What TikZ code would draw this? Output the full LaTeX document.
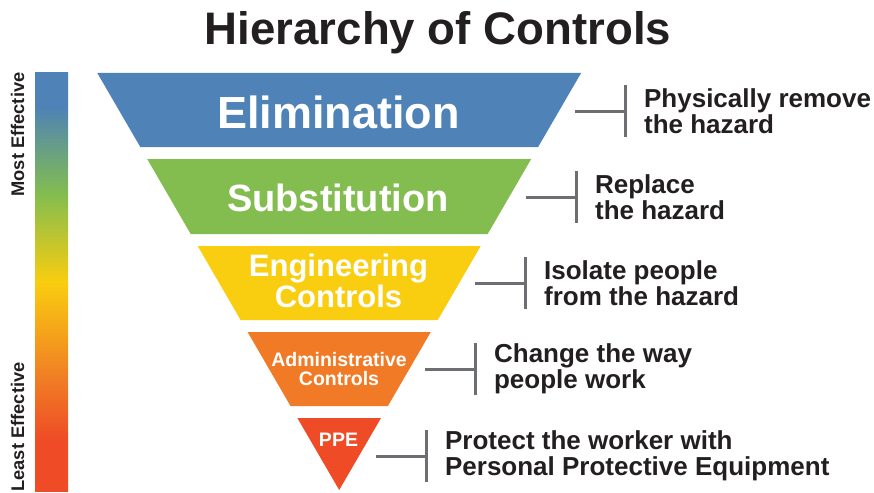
\documentclass[tikz,border=0pt]{standalone}
\usepackage{fontspec}
\setmainfont{Liberation Sans}
\usetikzlibrary{positioning}
\definecolor{hcblue}{HTML}{4F82B6}
\definecolor{hcgreen}{HTML}{83BD4F}
\definecolor{hcyellow}{HTML}{F9CD10}
\definecolor{hcorange}{HTML}{F07A25}
\definecolor{hcred}{HTML}{EE4B26}
\definecolor{hcgray}{HTML}{6D6E71}
\definecolor{hctext}{HTML}{231F20}
% Effectiveness scale, red at the bottom up to blue at the top
% (only 25bp--75bp is stretched over the path)
\pgfdeclareverticalshading{effective}{100bp}{%
  color(0bp)=(hcred); color(31bp)=(hcred); color(38bp)=(hcorange);
  color(50bp)=(hcyellow); color(60.5bp)=(hcgreen); color(71bp)=(hcblue);
  color(100bp)=(hcblue)}

\begin{document}
\begin{tikzpicture}[%
    x=1pt, y=-1pt,              % Work in picture pixels, y going down
    node distance=10pt          % Default spacing for relative placement
    ]
% -------------------------------------------------
% Text, bracket and scale styles
\tikzset{
  lvl/.style={text=white, font=\bfseries, align=center, inner sep=0pt},
  desc/.style={text=hctext, align=left, inner sep=0pt,
    font={\fontsize{26}{26.5}\selectfont\bfseries}},
  brbar/.style={fill=hcgray, minimum width=3pt, minimum height=52pt,
    inner sep=0pt},
  brline/.style={draw, hcgray, line width=3pt},
  side/.style={text=hctext, rotate=90, anchor=base, inner sep=0pt,
    font={\fontsize{18.3}{20}\selectfont\bfseries}}
}
\useasboundingbox (0,0) rectangle (874,492);

% -------------------------------------------------
% Title
\node [anchor=base, text=hctext, inner sep=0pt,
  font={\fontsize{45.6}{50}\selectfont\bfseries}] (title) at (438,45)
  {Hierarchy of Controls};

% -------------------------------------------------
% The scale on the left
\shade [shading=effective] (35,73) rectangle (68,491);
\node [side] (most) at (24,134.5) {Most Effective};
\node [side] (least) at (24,427) {Least Effective};

% -------------------------------------------------
% The inverted pyramid, one slice per level
\fill [hcblue]   (97.3,73) -- (581.1,73) -- (538.1,147) -- (140.3,147) -- cycle;
\fill [hcgreen]  (147.2,159) -- (531.2,159) -- (487.7,234) -- (190.7,234) -- cycle;
\fill [hcyellow] (197.7,246) -- (480.7,246) -- (437.8,320) -- (240.6,320) -- cycle;
\fill [hcorange] (247.6,332) -- (430.8,332) -- (387.9,406) -- (290.5,406) -- cycle;
\fill [hcred]    (297.4,418) -- (381.0,418) -- (339.2,490) -- cycle;

\node [lvl, anchor=base, font={\fontsize{45}{50}\selectfont\bfseries}]
  (elim) at (338.5,128.3) {Elimination};
\node [lvl, anchor=base, font={\fontsize{38}{42}\selectfont\bfseries}]
  (subst) at (338,211.7) {Substitution};
\node [lvl, font={\fontsize{31}{31.3}\selectfont\bfseries}]
  (eng) at (338.5,281) {Engineering\\Controls};
\node [lvl, font={\fontsize{19.5}{18.5}\selectfont\bfseries}]
  (admin) at (339,368.8) {Administrative\\Controls};
\node [lvl, anchor=base, font={\fontsize{19.5}{21}\selectfont\bfseries}]
  (ppe) at (338.5,446) {PPE};

% -------------------------------------------------
% Brackets: a stub from the slice, then the bar, then the text
\coordinate (e1) at (575,111);
\coordinate (e2) at (526,197);
\coordinate (e3) at (475,283);
\coordinate (e4) at (425,369);
\coordinate (e5) at (376,456);

\node [brbar, right=48.5pt of e1] (b1) {};
\node [brbar, right=48.5pt of e2] (b2) {};
\node [brbar, right=48.5pt of e3] (b3) {};
\node [brbar, right=48.5pt of e4] (b4) {};
\node [brbar, right=48.5pt of e5] (b5) {};

\draw [brline] (e1) -- (b1.west);
\draw [brline] (e2) -- (b2.west);
\draw [brline] (e3) -- (b3.west);
\draw [brline] (e4) -- (b4.west);
\draw [brline] (e5) -- (b5.west);

\node [desc, right=17pt of b1] (d1) {Physically remove\\the hazard};
\node [desc, right=17pt of b2] (d2) {Replace\\the hazard};
\node [desc, right=17pt of b3] (d3) {Isolate people\\from the hazard};
\node [desc, right=17pt of b4] (d4) {Change the way\\people work};
\node [desc, right=17pt of b5] (d5) {Protect the worker with\\Personal Protective Equipment};
\end{tikzpicture}
\end{document}
